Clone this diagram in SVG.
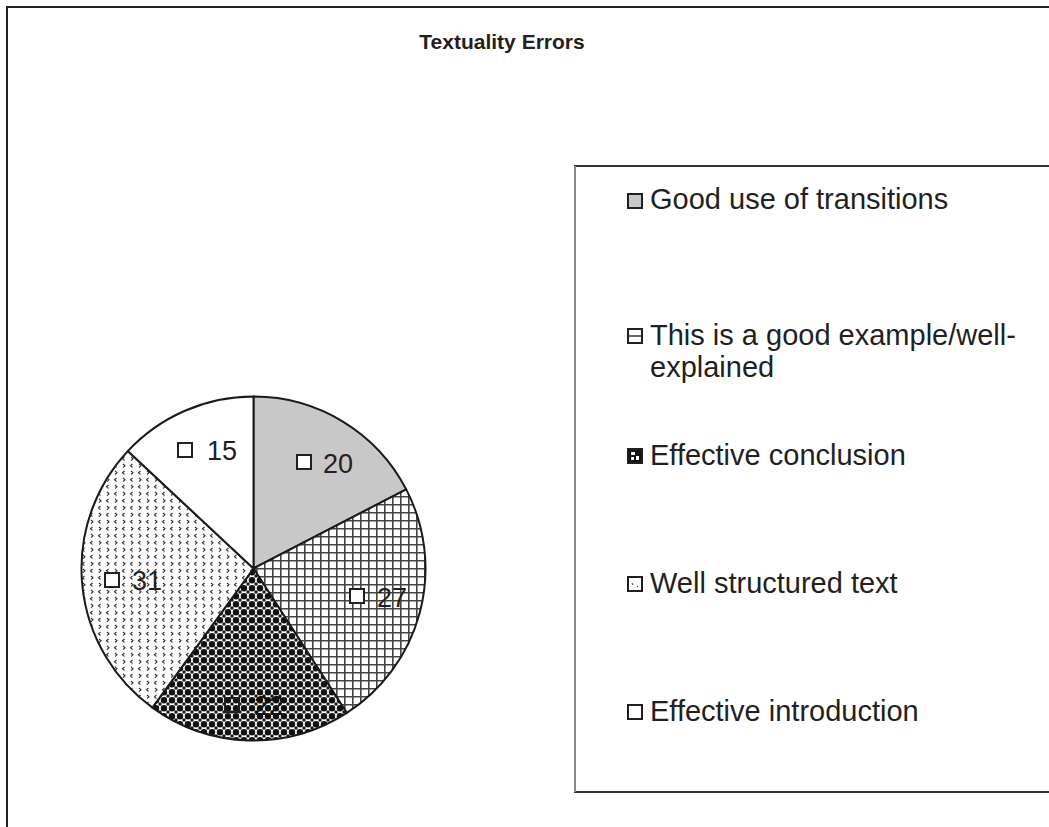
<svg xmlns="http://www.w3.org/2000/svg" width="1049" height="827" viewBox="0 0 1049 827">
<style>
.t{font-family:"Liberation Sans",Arial,sans-serif;fill:#231f20}
.title{font-size:21px;font-weight:bold;text-anchor:middle}
.leg{font-size:29px}
.lab{font-size:27px}
.sl{stroke:#1a1a1a;stroke-width:2;stroke-linejoin:round}
.key{stroke:#231f20;stroke-width:2}
</style>
<defs>
<pattern id="grid" width="8" height="8" patternUnits="userSpaceOnUse">
<rect width="8" height="8" fill="#fff"/>
<path d="M0 0.8H8M0.8 0V8" stroke="#444" stroke-width="1.6" fill="none"/>
</pattern>
<pattern id="blob" width="8" height="8" patternUnits="userSpaceOnUse">
<rect width="8" height="8" fill="#fff"/>
<circle cx="4" cy="4.3" r="3.2" fill="#111"/>
<rect x="0" y="0" width="1.5" height="1.5" fill="#111"/>
<rect x="6.5" y="0" width="1.5" height="1.5" fill="#111"/>
<rect x="0" y="6.5" width="1.5" height="1.5" fill="#111"/>
<rect x="6.5" y="6.5" width="1.5" height="1.5" fill="#111"/>
</pattern>
<pattern id="dots" width="16" height="14" patternUnits="userSpaceOnUse">
<rect width="16" height="14" fill="#fff"/>
<path d="M4.5 2L2.5 3.8L4.5 5.5M11 2L13 3.8L11 5.5M12.5 9L10.5 10.8L12.5 12.5M3 9L5 10.8L3 12.5" stroke="#333" stroke-width="1.1" fill="none"/>
</pattern>
</defs>
<rect x="7" y="7" width="1060" height="840" fill="#fff" stroke="#222" stroke-width="2"/>
<text class="t title" x="502" y="49">Textuality Errors</text>
<g id="pie">
<g id="slice-transitions"><path class="sl" d="M253.5 568.5L253.5 396.5A172 172 0 0 1 406.22 489.38Z" fill="#c8c8c8"/></g>
<g id="slice-example"><path class="sl" d="M253.5 568.5L406.22 489.38A172 172 0 0 1 346.84 712.96Z" fill="url(#grid)"/></g>
<g id="slice-conclusion"><path class="sl" d="M253.5 568.5L346.84 712.96A172 172 0 0 1 152.40 707.65Z" fill="url(#blob)"/></g>
<g id="slice-structured"><path class="sl" d="M253.5 568.5L152.40 707.65A172 172 0 0 1 127.80 451.09Z" fill="url(#dots)"/></g>
<g id="slice-introduction"><path class="sl" d="M253.5 568.5L127.80 451.09A172 172 0 0 1 253.5 396.5Z" fill="#fff"/></g>
</g>
<g id="labels">
<rect class="key" x="297" y="455" width="14" height="14" fill="#fff"/><text class="t lab" x="323" y="473">20</text>
<rect class="key" x="350" y="589" width="14" height="14" fill="#fff"/><text class="t lab" x="377" y="607">27</text>
<rect class="key" x="225" y="698" width="14" height="14" fill="none" stroke="#111"/><text class="t lab" x="254" y="715" style="fill:#111">22</text>
<rect class="key" x="105" y="573" width="14" height="14" fill="#fff"/><text class="t lab" x="132" y="590">31</text>
<rect class="key" x="178" y="443" width="14" height="14" fill="#fff"/><text class="t lab" x="207" y="460">15</text>
</g>
<g id="legend">
<rect x="575" y="166" width="490" height="626" fill="none" stroke="#333" stroke-width="2"/>
<line x1="575" y1="166" x2="575" y2="792" stroke="#888" stroke-width="2"/>
<g id="leg-transitions"><rect class="key" x="628" y="194" width="14" height="14" fill="#c8c8c8"/><text class="t leg" x="650" y="209">Good use of transitions</text></g>
<g id="leg-example"><rect class="key" x="628" y="329" width="14" height="14" fill="#fff"/><path d="M628 336H642" stroke="#333" stroke-width="1.5"/><text class="t leg" x="650" y="345">This is a good example/well-</text><text class="t leg" x="650" y="377">explained</text></g>
<g id="leg-conclusion"><rect class="key" x="628" y="449" width="14" height="14" fill="#111"/><rect x="631" y="452" width="4" height="3" fill="#fff"/><rect x="636" y="456" width="3" height="4" fill="#fff"/><rect x="631" y="457" width="3" height="3" fill="#fff"/><text class="t leg" x="650" y="465">Effective conclusion</text></g>
<g id="leg-structured"><rect class="key" x="628" y="577" width="14" height="14" fill="#fff"/><path d="M632 583l1 2M637 586l1 1" stroke="#333" stroke-width="1"/><text class="t leg" x="650" y="593">Well structured text</text></g>
<g id="leg-introduction"><rect class="key" x="628" y="705" width="14" height="14" fill="#fff"/><text class="t leg" x="650" y="721">Effective introduction</text></g>
</g>
</svg>
